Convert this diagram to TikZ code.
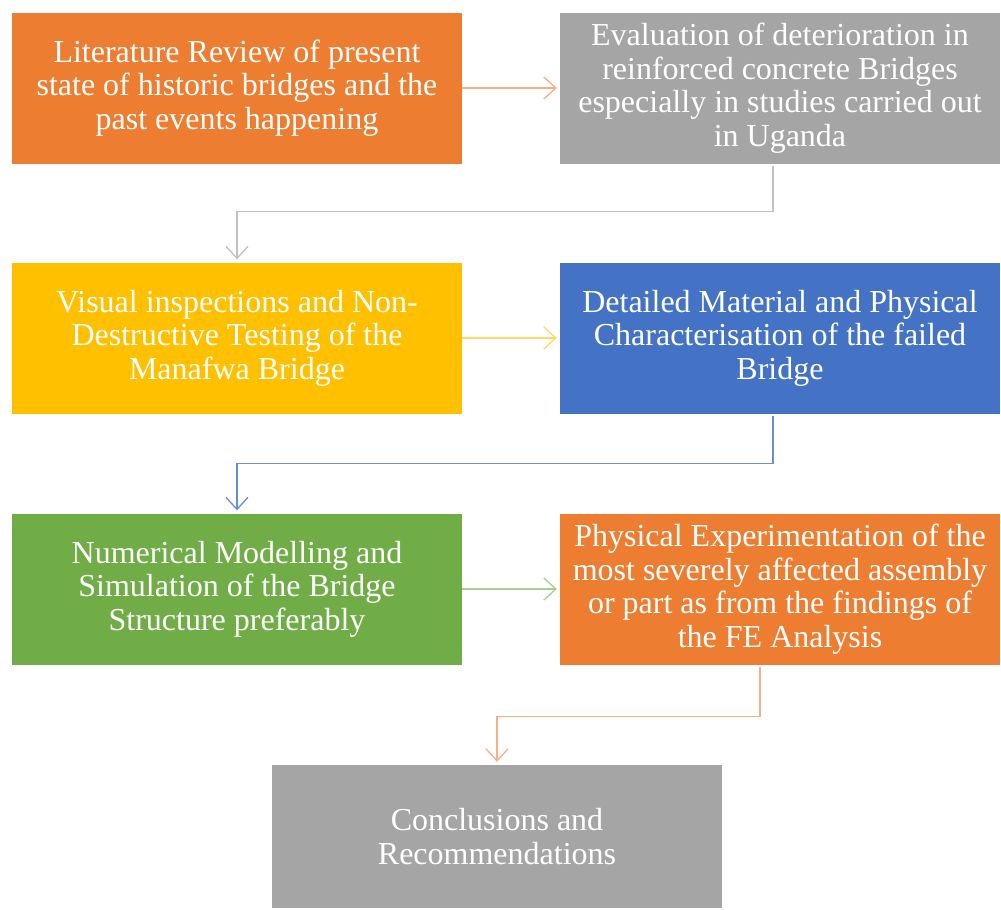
\documentclass[tikz,border=0pt]{standalone}
\usepackage{fontspec}
\setmainfont{Liberation Serif}
\usetikzlibrary{calc, arrows.meta, positioning}
\definecolor{flowOrange}{HTML}{ED7D31}
\definecolor{flowGray}{HTML}{A5A5A5}
\definecolor{flowYellow}{HTML}{FFC000}
\definecolor{flowBlue}{HTML}{4472C4}
\definecolor{flowGreen}{HTML}{70AD47}
\tikzset{
  stage/.style={rectangle, minimum width=450pt, minimum height=151pt, inner sep=0pt,
    text=white, align=center, font=\fontsize{32}{33.5}\selectfont},
  flow/.style={line width=1.3pt, -{Straight Barb[length=12pt, width=22pt, line width=1.3pt]}}
}
\begin{document}
\begin{tikzpicture}[x=1pt, y=-1pt]
            \useasboundingbox[fill=white] (0,0) rectangle (1001,910);

            % Row 1
            \node[stage, fill=flowOrange] (review) at (237,88)
              {Literature Review of present\\state of historic bridges and the\\past events happening};
            \node[stage, fill=flowGray, minimum width=440pt] (eval) at (780,88)
              {Evaluation of deterioration in\\reinforced concrete Bridges\\especially in studies carried out\\in Uganda};

            % Row 2
            \node[stage, fill=flowYellow] (visual) at (237,338)
              {Visual inspections and Non-\\Destructive Testing of the\\Manafwa Bridge};
            \node[stage, fill=flowBlue, minimum width=440pt] (charac) at (780,338)
              {Detailed Material and Physical\\Characterisation of the failed\\Bridge};

            % Row 3
            \node[stage, fill=flowGreen] (model) at (237,589)
              {Numerical Modelling and\\Simulation of the Bridge\\Structure preferably};
            \node[stage, fill=flowOrange, minimum width=440pt] (exper) at (780,589)
              {Physical Experimentation of the\\most severely affected assembly\\or part as from the findings of\\the FE Analysis};

            % Conclusions
            \node[stage, fill=flowGray, minimum height=143pt] (concl) at (497,836.5)
              {Conclusions and\\Recommendations};

            % Connectors
            \draw[flow, flowOrange!60] (review.east) -- ([xshift=-3pt]eval.west);
            \draw[flow, flowGray!70, shorten <=2pt, shorten >=3pt]
              ([xshift=-7pt]eval.south) -- ++(0,48) -| (visual.north);
            \draw[flow, flowYellow!60] (visual.east) -- ([xshift=-3pt]charac.west);
            \draw[flow, flowBlue!80, shorten <=2pt, shorten >=3pt]
              ([xshift=-7pt]charac.south) -- ++(0,50) -| (model.north);
            \draw[flow, flowGreen!60] (model.east) -- ([xshift=-3pt]exper.west);
            \draw[flow, flowOrange!60, shorten <=2pt, shorten >=3pt]
              ([xshift=-20pt]exper.south) -- ++(0,52) -| (concl.north);
        \end{tikzpicture}
\end{document}
